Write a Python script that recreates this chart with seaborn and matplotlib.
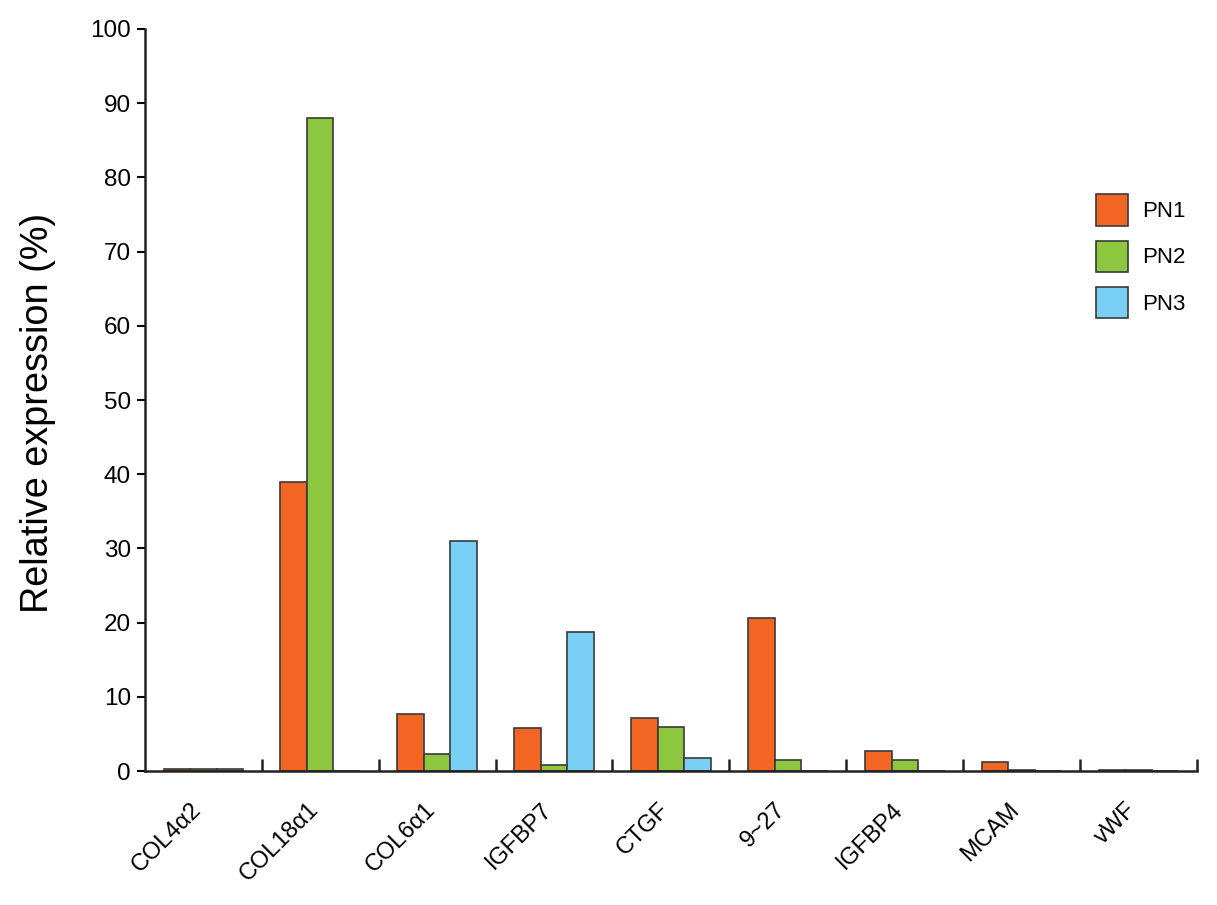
import matplotlib
matplotlib.use("Agg")
import matplotlib.pyplot as plt
import matplotlib.transforms as mtransforms
import seaborn as sns
import pandas as pd
import numpy as np

genes = ["COL4α2", "COL18α1", "COL6α1", "IGFBP7", "CTGF", "9~27", "IGFBP4", "MCAM", "vWF"]
pn1 = [0.3, 39.0, 7.7, 5.8, 7.1, 20.6, 2.7, 1.2, 0.2]
pn2 = [0.3, 88.0, 2.3, 0.8, 6.0, 1.5, 1.5, 0.1, 0.2]
pn3 = [0.3, 0.0, 31.0, 18.7, 1.7, 0.0, 0.0, 0.0, 0.0]
series = ["PN1", "PN2", "PN3"]
colors = ["#F26522", "#8DC63F", "#7ACFF5"]

df = pd.DataFrame({
    "gene": genes * 3,
    "value": pn1 + pn2 + pn3,
    "series": [s for s in series for _ in genes],
})

sns.set_style("white")
plt.rcParams["font.family"] = ["Liberation Sans", "DejaVu Sans"]
plt.rcParams["text.color"] = "black"
plt.rcParams["axes.labelcolor"] = "black"
plt.rcParams["xtick.color"] = "black"
plt.rcParams["ytick.color"] = "black"

fig = plt.figure(figsize=(12.17, 9.05), dpi=100)
ax = fig.add_axes([0.119, 0.148, 0.8646, 0.820])

sns.barplot(data=df, x="gene", y="value", hue="series", order=genes,
            hue_order=series, palette=colors, width=0.68, saturation=1,
            edgecolor="#3a3a3a", linewidth=1.2, ax=ax, errorbar=None)

ax.set_xlim(-0.5, len(genes) - 0.5)
ax.set_ylim(0, 100)
ax.set_yticks(np.arange(0, 101, 10))
ax.tick_params(axis="y", labelsize=17.5, direction="out", length=6, width=1.5,
               left=True, pad=4, colors="black")
ax.set_xticks(np.arange(len(genes)))
ax.set_xticklabels(genes, rotation=45, ha="right", rotation_mode="anchor", fontsize=17)
ax.tick_params(axis="x", length=0, pad=14, labelcolor="black")
ax.set_xticks(np.arange(1, len(genes) + 1) - 0.5, minor=True)
ax.tick_params(axis="x", which="minor", direction="in", length=9, width=1.8,
               bottom=True, color="#222222")

shift = mtransforms.ScaledTranslation(-13 / 100, -8 / 100, fig.dpi_scale_trans)
for lbl in ax.get_xticklabels():
    lbl.set_transform(lbl.get_transform() + shift)

for s in ["top", "right"]:
    ax.spines[s].set_visible(False)
for s in ["left", "bottom"]:
    ax.spines[s].set_linewidth(1.8)
    ax.spines[s].set_color("#222222")

ax.set_xlabel("")
ax.set_ylabel("Relative expression (%)", fontsize=27.3, color="black")
ax.yaxis.set_label_coords(-0.084, 0.4825)

leg = ax.legend(title=None, frameon=False, fontsize=16, loc="upper left",
                bbox_to_anchor=(0.885, 0.804), handlelength=1.46, handleheight=1.78,
                labelspacing=0.68, handletextpad=0.63)
for h in leg.legend_handles:
    h.set_edgecolor("#3a3a3a")
    h.set_linewidth(1.2)
for t in leg.get_texts():
    t.set_color("black")

fig.savefig("out.png", dpi=100)
